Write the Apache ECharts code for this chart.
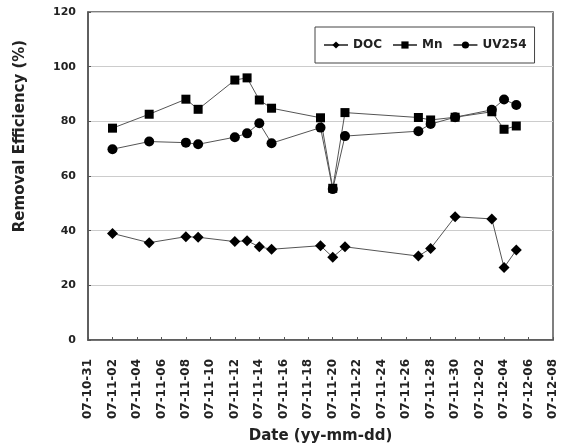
<!DOCTYPE html>
<html>
<head>
<meta charset="utf-8">
<script src="https://cdn.jsdelivr.net/npm/echarts@6/dist/echarts.min.js"></script>
<style>html,body{margin:0;padding:0;background:#fff;}#c{width:566px;height:447px;}</style>
</head>
<body>
<div id="c"></div>
<script>
var dates = ['07-11-02','07-11-05','07-11-08','07-11-09','07-11-12','07-11-13','07-11-14','07-11-15','07-11-19','07-11-20','07-11-21','07-11-27','07-11-28','07-11-30','07-12-03','07-12-04','07-12-05'];
var doc   = [39.0, 35.6, 37.8, 37.6, 36.0, 36.3, 34.1, 33.2, 34.5, 30.3, 34.1, 30.7, 33.5, 45.1, 44.3, 26.5, 32.9];
var mn    = [77.5, 82.6, 88.1, 84.4, 95.1, 95.9, 87.8, 84.8, 81.3, 55.5, 83.2, 81.4, 80.5, 81.5, 83.5, 77.1, 78.3];
var uv254 = [69.8, 72.6, 72.2, 71.6, 74.2, 75.6, 79.3, 72.0, 77.7, 55.2, 74.6, 76.4, 79.0, 81.5, 84.2, 88.0, 86.0];
var startDate = '07-10-31';
var endDate = '07-12-08';
var yTicks = [0, 20, 40, 60, 80, 100, 120];

function toDay(s) {
  var p = s.split('-');
  return Date.UTC(2000 + (+p[0]), +p[1] - 1, +p[2]) / 86400000;
}
var base = toDay(startDate);
function fmt(d) {
  var t = new Date((base + d) * 86400000);
  var yy = String(t.getUTCFullYear() % 100).padStart(2, '0');
  var mm = String(t.getUTCMonth() + 1).padStart(2, '0');
  var dd = String(t.getUTCDate()).padStart(2, '0');
  return yy + '-' + mm + '-' + dd;
}
function pairs(vals) {
  return dates.map(function (d, i) { return [toDay(d) - base, vals[i]]; });
}

var FONT = 'DejaVu Sans';
var chart = echarts.init(document.getElementById('c'));
var lineStyle = { color: '#555', width: 1 };
chart.setOption({
  backgroundColor: '#fff',
  animation: false,
  grid: { left: 88, right: 13, top: 12, bottom: 107, show: true, borderColor: '#555', borderWidth: 1.5,
          containLabel: false, outerBoundsMode: 'none' },
  legend: {
    left: 315, top: 27,
    padding: [12, 8, 12, 8],
    borderColor: '#444', borderWidth: 1,
    itemWidth: 24, itemHeight: 9, itemGap: 10,
    textStyle: { fontFamily: FONT, fontWeight: 'bold', fontSize: 12, color: '#222' },
    data: ['DOC', 'Mn', 'UV254']
  },
  xAxis: {
    type: 'value',
    min: 0, max: toDay(endDate) - base, interval: 2,
    name: 'Date (yy-mm-dd)', nameLocation: 'middle', nameGap: 89,
    nameTextStyle: { fontFamily: FONT, fontWeight: 'bold', fontSize: 15, color: '#222' },
    axisLine: { show: true, lineStyle: { color: '#555', width: 1.5 } },
    axisTick: { show: true, inside: true, length: 3, lineStyle: { color: '#555' } },
    splitLine: { show: false },
    axisLabel: {
      rotate: 90, margin: 19, fontFamily: FONT, fontWeight: 'bold', fontSize: 12, color: '#222',
      formatter: function (v) { return fmt(v); }
    }
  },
  yAxis: {
    type: 'value',
    min: yTicks[0], max: yTicks[yTicks.length - 1], interval: 20,
    name: 'Removal Efficiency (%)', nameLocation: 'middle', nameGap: 60,
    nameTextStyle: { fontFamily: FONT, fontWeight: 'bold', fontSize: 15, color: '#222', padding: [0, 0, 0, 80] },
    axisLine: { show: true, lineStyle: { color: '#555', width: 1.5 } },
    axisTick: { show: true, inside: true, length: 3, lineStyle: { color: '#555' } },
    splitLine: { show: true, lineStyle: { color: '#ccc', width: 1 } },
    axisLabel: { margin: 12, fontFamily: FONT, fontWeight: 'bold', fontSize: 11, color: '#222' }
  },
  series: [
    { name: 'DOC', type: 'line', data: pairs(doc), symbol: 'diamond', symbolSize: 11,
      itemStyle: { color: '#000' }, lineStyle: lineStyle },
    { name: 'Mn', type: 'line', data: pairs(mn), symbol: 'rect', symbolSize: 9,
      itemStyle: { color: '#000' }, lineStyle: lineStyle },
    { name: 'UV254', type: 'line', data: pairs(uv254), symbol: 'circle', symbolSize: 10,
      itemStyle: { color: '#000' }, lineStyle: lineStyle }
  ]
});
</script>
</body>
</html>
